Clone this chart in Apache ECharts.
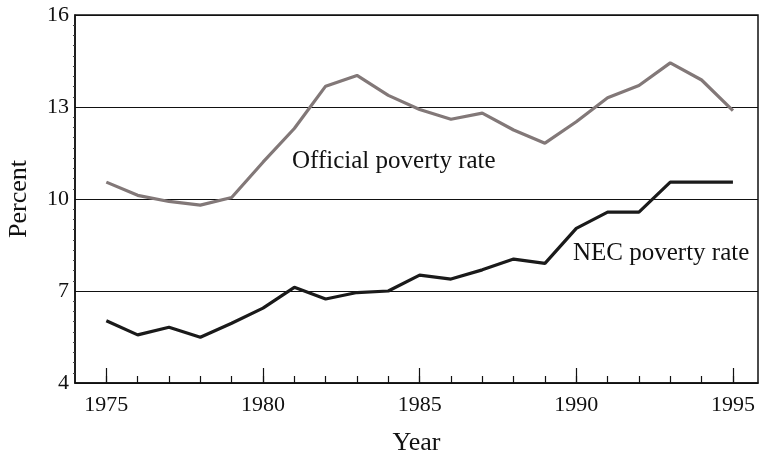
<!DOCTYPE html>
<html>
<head>
<meta charset="utf-8">
<script src="https://cdn.jsdelivr.net/npm/echarts@6/dist/echarts.min.js"></script>
<style>html,body{margin:0;padding:0;background:#fff}#c{width:761px;height:456px}</style>
</head>
<body>
<div id="c"></div>
<script>
var years = [1975,1976,1977,1978,1979,1980,1981,1982,1983,1984,1985,1986,1987,1988,1989,1990,1991,1992,1993,1994,1995];
var official = [10.55,10.12,9.92,9.8,10.05,11.2,12.3,13.68,14.03,13.38,12.92,12.6,12.8,12.25,11.82,12.52,13.3,13.7,14.44,13.88,12.88];
var nec = [6.03,5.57,5.82,5.49,5.95,6.44,7.12,6.74,6.95,7.0,7.52,7.39,7.69,8.04,7.9,9.04,9.57,9.57,10.55,10.55,10.55];
var majorYears = [1975,1980,1985,1990,1995];
var yTicks = [4,7,10,13,16];
var seriesNames = ['Official poverty rate','NEC poverty rate'];

var font = 'Liberation Serif';
var chart = echarts.init(document.getElementById('c'));
function pairs(v){ return years.map(function(y,i){ return [y, v[i]]; }); }
var gridBox = {left: 75, right: 3, top: 15, bottom: 73, containLabel: false, outerBoundsMode: 'none'};
chart.setOption({
  animation: false,
  grid: [
    Object.assign({show: true, borderColor: '#111', borderWidth: 1.5}, gridBox),
    Object.assign({show: false}, gridBox)
  ],
  xAxis: [{
    gridIndex: 0, type: 'value', min: 1974, max: 1995.8,
    name: 'Year', nameLocation: 'middle', nameGap: 47,
    nameTextStyle: {fontFamily: font, fontSize: 26, color: '#111'},
    axisLine: {show: true, onZero: false, lineStyle: {color: '#111', width: 1.5}},
    axisTick: {show: true, inside: true, length: 15, customValues: majorYears, lineStyle: {color: '#111', width: 1.2}},
    axisLabel: {show: true, customValues: majorYears, fontFamily: font, fontSize: 22, color: '#111', margin: 11,
      formatter: function(v){ return String(v); }},
    splitLine: {show: false}
  }, {
    gridIndex: 1, type: 'value', min: 1974, max: 1995.8, position: 'bottom',
    axisLine: {show: true, onZero: false, lineStyle: {color: 'rgba(0,0,0,0)', width: 1}},
    axisTick: {show: true, inside: true, interval: 0, length: 7, customValues: years, lineStyle: {color: '#111', width: 1.2}},
    axisLabel: {show: true, interval: 0, customValues: years, fontSize: 1, color: 'rgba(0,0,0,0)',
      formatter: function(v){ return String(v); }},
    splitLine: {show: false}
  }],
  yAxis: [{
    gridIndex: 0, type: 'value', min: 4, max: 16, interval: 3,
    name: 'Percent', nameLocation: 'middle', nameGap: 43, nameRotate: 90,
    nameTextStyle: {fontFamily: font, fontSize: 26, color: '#111'},
    axisLine: {show: true, onZero: false, lineStyle: {color: '#111', width: 1.5}},
    axisTick: {show: false},
    minorTick: {show: true, splitNumber: 9, length: 2, lineStyle: {color: '#444', width: 1}},
    axisLabel: {fontFamily: font, fontSize: 22, color: '#111', margin: 6,
      formatter: function(v){ return yTicks.indexOf(v) >= 0 ? String(v) : ''; }},
    splitLine: {show: true, lineStyle: {color: '#111', width: 1.2}}
  }, {
    gridIndex: 1, type: 'value', min: 4, max: 16,
    axisLine: {show: false}, axisTick: {show: false}, axisLabel: {show: false}, splitLine: {show: false}
  }],
  series: [{
    name: seriesNames[0], type: 'line', data: pairs(official), showSymbol: false,
    xAxisIndex: 0, yAxisIndex: 0,
    lineStyle: {color: '#827878', width: 3.2}, z: 3
  }, {
    name: seriesNames[1], type: 'line', data: pairs(nec), showSymbol: false,
    xAxisIndex: 0, yAxisIndex: 0,
    lineStyle: {color: '#1a1a1a', width: 3.2}, z: 4
  }],
  graphic: [{
    type: 'text', left: 292, top: 149,
    style: {text: seriesNames[0], fontFamily: font, fontSize: 25, fill: '#111'}
  }, {
    type: 'text', left: 573, top: 241,
    style: {text: seriesNames[1], fontFamily: font, fontSize: 25, fill: '#111'}
  }]
});
</script>
</body>
</html>
